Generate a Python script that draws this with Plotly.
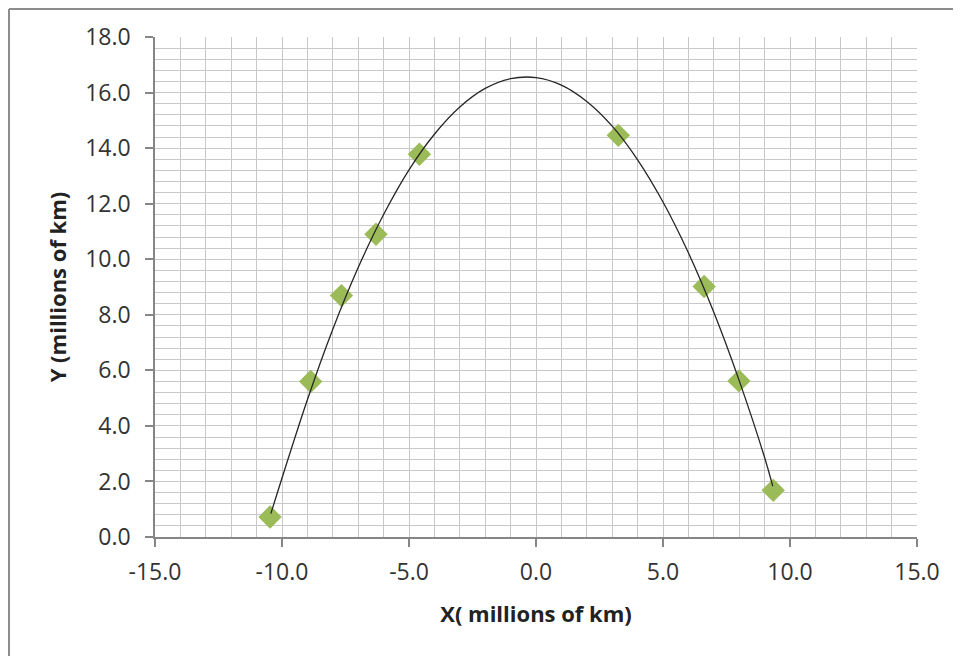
import plotly.graph_objects as go

# Observed positions (millions of km)
obs_x = [-10.47, -8.87, -7.66, -6.30, -4.59, 3.24, 6.62, 7.99, 9.34]
obs_y = [0.72, 5.60, 8.69, 10.90, 13.78, 14.46, 9.02, 5.62, 1.68]

# Trendline
trend_x = [-10.44, -9, -8, -7, -6, -5, -4, -3, -2, -1, 0, 1, 2, 3, 4, 5, 6, 7, 8, 9, 9.32]
trend_y = [0.84, 4.94, 7.48, 9.70, 11.61, 13.22, 14.50, 15.48, 16.15, 16.50, 16.54,
           16.27, 15.68, 14.79, 13.58, 12.06, 10.23, 8.09, 5.63, 2.86, 1.83]

x_ticks = [-15, -10, -5, 0, 5, 10, 15]
x_tick_labels = ["-15.0", "-10.0", "-5.0", "0.0", "5.0", "10.0", "15.0"]
y_ticks = [0, 2, 4, 6, 8, 10, 12, 14, 16, 18]
y_tick_labels = ["0.0", "2.0", "4.0", "6.0", "8.0", "10.0", "12.0", "14.0", "16.0", "18.0"]

x_title = "X( millions of km)"
y_title = "Y (millions of km)"

FONT = "Open Sans"
TXT = "#333333"
GRID = "#c8c8c8"
AXIS = "#868686"

fig = go.Figure()
fig.add_trace(go.Scatter(
    x=obs_x, y=obs_y, mode="markers",
    marker=dict(symbol="diamond", size=18, color="#9BBB59", line=dict(width=0)),
    showlegend=False, hoverinfo="x+y"))
fig.add_trace(go.Scatter(
    x=trend_x, y=trend_y, mode="lines", line=dict(color="#262626", width=1.3, shape="spline"),
    showlegend=False, hoverinfo="skip"))

fig.update_xaxes(
    range=[-15, 15], tickmode="array", tickvals=x_ticks, ticktext=x_tick_labels,
    showgrid=True, gridcolor=GRID, gridwidth=1,
    minor=dict(tick0=0, dtick=1, showgrid=True, gridcolor=GRID, gridwidth=1),
    showline=True, linecolor=AXIS, linewidth=1.5,
    ticks="outside", ticklen=8, tickcolor=AXIS, tickwidth=1.5,
    ticklabelstandoff=6,
    zeroline=False, automargin=False,
    tickfont=dict(family=FONT, size=23, color=TXT),
    title=dict(text=x_title, font=dict(family=FONT, size=22, color="#222222", weight="bold"), standoff=20),
)
fig.update_yaxes(
    range=[0, 18], tickmode="array", tickvals=y_ticks, ticktext=y_tick_labels,
    showgrid=True, gridcolor=GRID, gridwidth=1,
    minor=dict(tick0=0, dtick=0.4, showgrid=True, gridcolor=GRID, gridwidth=1),
    showline=True, linecolor=AXIS, linewidth=1.5,
    ticks="outside", ticklen=8, tickcolor=AXIS, tickwidth=1.5,
    ticklabelstandoff=10,
    zeroline=False, automargin=False,
    tickfont=dict(family=FONT, size=23, color=TXT),
    title=dict(text=y_title, font=dict(family=FONT, size=22, color="#222222", weight="bold"), standoff=12),
)

# The page body adds an 8px offset, so the figure is 8px smaller than the window.
W, H = 953, 648
L, R, T, B = 147, 44, 29, 119
pw, ph = W - L - R, H - T - B

def px_x(p):
    return (p - L) / pw

def px_y(p):
    return (H - B - p) / ph

fig.add_shape(type="line", xref="paper", yref="paper",
              x0=px_x(1), x1=px_x(W + 5), y0=px_y(1), y1=px_y(1),
              line=dict(color="#8c8c8c", width=2))
fig.add_shape(type="line", xref="paper", yref="paper",
              x0=px_x(1), x1=px_x(1), y0=px_y(1), y1=px_y(H + 5),
              line=dict(color="#8c8c8c", width=2))

fig.update_layout(
    width=W, height=H,
    margin=dict(l=L, r=R, t=T, b=B),
    paper_bgcolor="white", plot_bgcolor="white",
    font=dict(family=FONT, color=TXT),
)

fig.write_html("out.html")
